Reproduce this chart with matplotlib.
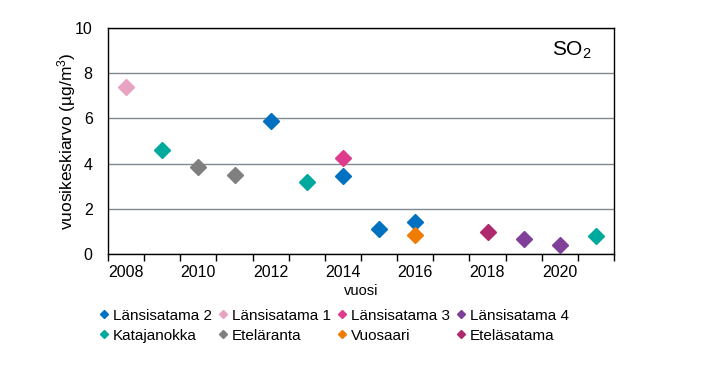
#SO2-vuosikeskiarvot mittauspaikoittain, hajontakuva


import numpy as np
import matplotlib.pyplot as plt

plt.rcParams['font.family'] = ['Liberation Sans', 'DejaVu Sans']
plt.rcParams['mathtext.default'] = 'regular'

#mittauspaikkojen vuodet ja arvot
lans2_years = [2012, 2014, 2015, 2016]
lans2_vals = [5.9, 3.45, 1.12, 1.4]
lans1_years = [2008]
lans1_vals = [7.37]
lans3_years = [2014]
lans3_vals = [4.25]
lans4_years = [2019, 2020]
lans4_vals = [0.67, 0.39]
kata_years = [2009, 2013, 2021]
kata_vals = [4.6, 3.17, 0.79]
etelar_years = [2010, 2011]
etelar_vals = [3.83, 3.5]
vuosaari_years = [2016]
vuosaari_vals = [0.86]
etelas_years = [2018]
etelas_vals = [0.96]

year_ticks = [2008, 2010, 2012, 2014, 2016, 2018, 2020]

#selitteen järjestys: matplotlib täyttää sarakkeittain
series = [
    ('Länsisatama 2', lans2_years, lans2_vals, '#0070C0'),
    ('Katajanokka', kata_years, kata_vals, '#00A99D'),
    ('Länsisatama 1', lans1_years, lans1_vals, '#E8A2C2'),
    ('Eteläranta', etelar_years, etelar_vals, '#7F7F7F'),
    ('Länsisatama 3', lans3_years, lans3_vals, '#DE3B8C'),
    ('Vuosaari', vuosaari_years, vuosaari_vals, '#F07B05'),
    ('Länsisatama 4', lans4_years, lans4_vals, '#80409A'),
    ('Eteläsatama', etelas_years, etelas_vals, '#B0286E'),
]

fig = plt.figure(figsize=(7.09, 3.71), dpi=100)
ax = fig.add_axes([108 / 709, 1 - 254 / 371, 506 / 709, 226 / 371])

#pisteet
for name, xs, ys, c in series:
    ax.plot(xs, ys, linestyle='none', marker='D', markersize=8.5,
            color=c, label=name, zorder=3)

#akselit
ax.set_xlim(2007.5, 2021.5)
ax.set_ylim(0, 10)
ax.set_xticks(year_ticks)
ax.set_xticks(np.arange(2007.5, 2022, 1), minor=True)
ax.tick_params(axis='x', which='major', length=0, labelsize=11.5, pad=8)
ax.tick_params(axis='x', which='minor', length=5, direction='out', width=1)
ax.set_yticks(np.arange(0, 11, 2))
ax.tick_params(axis='y', length=0, labelsize=11.5, pad=11)
ax.yaxis.grid(True, color='#808890', linewidth=1)
ax.set_axisbelow(True)
for s in ax.spines.values():
    s.set_linewidth(1)
    s.set_color('black')

ax.set_ylabel('vuosikeskiarvo (µg/m$^3$)', fontsize=12.5, labelpad=-2)
ax.set_xlabel('vuosi', fontsize=10.5, labelpad=3)
fig.text(552 / 709, 1 - 50 / 371, 'SO$_2$', fontsize=15,
         ha='left', va='center')

#selite kahdelle riville
fig.legend(loc='upper left', bbox_to_anchor=(99.5 / 709, 1 - 308.5 / 371),
           ncol=4, frameon=False, fontsize=11, markerscale=0.45,
           handlelength=0.6, handletextpad=0.3, columnspacing=0.4,
           labelspacing=0.4, borderpad=0, borderaxespad=0)

plt.savefig('out.png', dpi=100)
